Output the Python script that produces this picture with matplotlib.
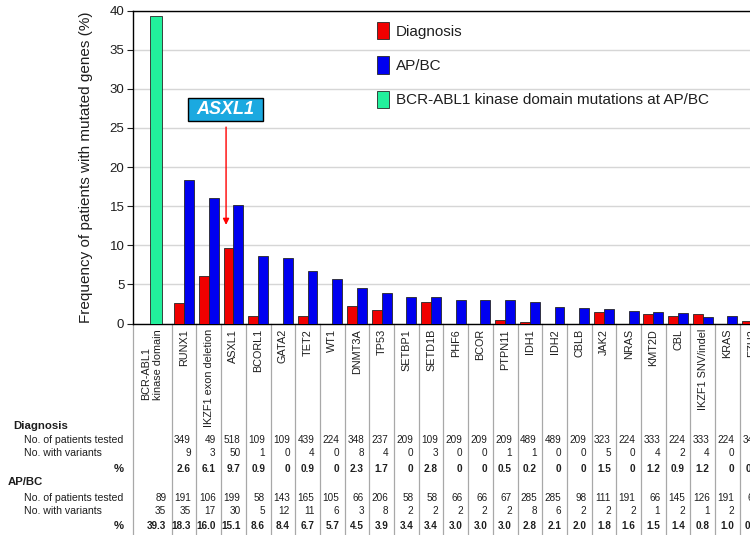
import numpy as np
import matplotlib
matplotlib.use('Agg')
from matplotlib import pyplot as plt
from matplotlib import transforms
from matplotlib.patches import Patch, Rectangle

plt.rcParams['font.family'] = ['Liberation Sans', 'DejaVu Sans']

# BCR-ABL1 kinase domain column (AP/BC only)
kd_label = 'BCR-ABL1\nkinase domain'
kd_tested = 89
kd_variants = 35
kd_pct = 39.3

genes = ['RUNX1', 'IKZF1 exon deletion', 'ASXL1', 'BCORL1', 'GATA2', 'TET2', 'WT1',
         'DNMT3A', 'TP53', 'SETBP1', 'SETD1B', 'PHF6', 'BCOR', 'PTPN11', 'IDH1',
         'IDH2', 'CBLB', 'JAK2', 'NRAS', 'KMT2D', 'CBL', 'IKZF1 SNV/indel', 'KRAS', 'EZH2']

diag_tested = [349, 49, 518, 109, 109, 439, 224, 348, 237, 209, 109, 209, 209, 209,
               489, 489, 209, 323, 224, 333, 224, 333, 224, 348]
diag_variants = [9, 3, 50, 1, 0, 4, 0, 8, 4, 0, 3, 0, 0, 1, 1, 0, 0, 5, 0, 4, 2, 4, 0, 1]
diag_pct = [2.6, 6.1, 9.7, 0.9, 0, 0.9, 0, 2.3, 1.7, 0, 2.8, 0, 0, 0.5, 0.2, 0, 0,
            1.5, 0, 1.2, 0.9, 1.2, 0, 0.3]

ap_tested = [191, 106, 199, 58, 143, 165, 105, 66, 206, 58, 58, 66, 66, 67, 285, 285,
             98, 111, 191, 66, 145, 126, 191, 66]
ap_variants = [35, 17, 30, 5, 12, 11, 6, 3, 8, 2, 2, 2, 2, 2, 8, 6, 2, 2, 2, 1, 2, 1, 2, 0]
ap_pct = [18.3, 16.0, 15.1, 8.6, 8.4, 6.7, 5.7, 4.5, 3.9, 3.4, 3.4, 3.0, 3.0, 3.0, 2.8,
          2.1, 2.0, 1.8, 1.6, 1.5, 1.4, 0.8, 1.0, 0.0]

RED = '#f00000'
BLUE = '#0000f0'
GREEN = '#22f09c'
EDGE = '#262626'
SEP = '#a8a8a8'
TXT = '#1e1e1e'

W, H = 750, 535
x_left, x_right = -1.58, 25.0
px_unit = 24.7
ax_left_px = 132.7
ax_top_px, ax_bot_px = 10.5, 323.5
NUM_FS = 7.2


def fy(px):
    return 1 - px / H


fig = plt.figure(figsize=(W / 100, H / 100), dpi=100)
ax = fig.add_axes([ax_left_px / W, fy(ax_bot_px),
                   (x_right - x_left) * px_unit / W, (ax_bot_px - ax_top_px) / H])

x = np.arange(len(genes)) + 0.5
ax.bar(x - 0.2, diag_pct, width=0.4, color=RED, edgecolor=EDGE, linewidth=0.6, zorder=3)
ax.bar(x + 0.2, ap_pct, width=0.4, color=BLUE, edgecolor=EDGE, linewidth=0.6, zorder=3)
ax.bar([-0.63], [kd_pct], width=0.47, color=GREEN, edgecolor=EDGE, linewidth=0.6, zorder=3)

ax.yaxis.grid(True, color='#d6d6d6', linewidth=1)
ax.set_axisbelow(True)
for s in ['top', 'left', 'bottom']:
    ax.spines[s].set_color('black')
    ax.spines[s].set_linewidth(1)
ax.spines['right'].set_visible(False)
ax.set_yticks(range(0, 41, 5))
ax.set_xticks([])
ax.tick_params(axis='y', labelsize=9.5, length=4, width=0.8, pad=2, colors=TXT)
ax.set_ylabel('Frequency of patients with mutated genes (%)', fontsize=11, color=TXT)
ax.yaxis.set_label_coords((92.7 - ax_left_px) / ((x_right - x_left) * px_unit), 0.5)

handles = [Patch(facecolor=RED, edgecolor=EDGE, linewidth=0.6, label='Diagnosis'),
           Patch(facecolor=BLUE, edgecolor=EDGE, linewidth=0.6, label='AP/BC'),
           Patch(facecolor=GREEN, edgecolor=EDGE, linewidth=0.6,
                 label='BCR-ABL1 kinase domain mutations at AP/BC')]
leg = ax.legend(handles=handles, loc='upper left', bbox_to_anchor=(377 / W, fy(22)),
                bbox_transform=fig.transFigure, frameon=False, fontsize=11,
                handlelength=0.76, handleheight=1.37, handletextpad=0.48,
                labelspacing=1.11, borderpad=0, borderaxespad=0)
for t in leg.get_texts():
    t.set_color(TXT)

# ASXL1 call-out box and arrow
ax.add_patch(Rectangle((0.672, 25.92), 3.04, 2.9, facecolor='#1ba9e0', edgecolor='black',
                       linewidth=1, zorder=5))
ax.text(2.19, 27.37, 'ASXL1', color='white', fontsize=13, fontweight='bold',
        fontstyle='italic', ha='center', va='center', zorder=6)
ax.annotate('', xy=(2.2, 12.6), xytext=(2.2, 25.1),
            arrowprops=dict(arrowstyle='-|>', color='red', lw=1, mutation_scale=9,
                            shrinkA=0, shrinkB=0))

# table below the axes: x in data units, y in figure fraction
trans = transforms.blended_transform_factory(ax.transData, fig.transFigure)
bounds = [x_left] + list(range(0, len(genes) + 1))
for b in bounds:
    ax.plot([b, b], [fy(ax_bot_px), 0], transform=trans, color=SEP, lw=0.9,
            clip_on=False, zorder=1)

ax.text(-0.79, fy(329), kd_label, transform=trans, rotation=90, ha='center', va='top',
        multialignment='left', fontsize=7.8, color=TXT, linespacing=1.15)
for xi, g in zip(x, genes):
    ax.text(xi, fy(329), g, transform=trans, rotation=90, ha='center', va='top',
            fontsize=7.8, color=TXT)

fig.text(13.3 / W, fy(425.7), 'Diagnosis', fontsize=8.2, fontweight='bold', va='center', color=TXT)
fig.text(24.3 / W, fy(440), 'No. of patients tested', fontsize=7.6, va='center', color=TXT)
fig.text(24.3 / W, fy(453.3), 'No. with variants', fontsize=7.6, va='center', color=TXT)
fig.text(123.3 / W, fy(469.5), '%', fontsize=8.2, fontweight='bold', ha='right', va='center', color=TXT)
fig.text(8 / W, fy(482), 'AP/BC', fontsize=8.2, fontweight='bold', va='center', color=TXT)
fig.text(24.3 / W, fy(498.3), 'No. of patients tested', fontsize=7.6, va='center', color=TXT)
fig.text(24.3 / W, fy(510.5), 'No. with variants', fontsize=7.6, va='center', color=TXT)
fig.text(123.3 / W, fy(526), '%', fontsize=8.2, fontweight='bold', ha='right', va='center', color=TXT)

pad = 0.22
kd_right = 0 - pad
ax.text(kd_right, fy(498.3), str(kd_tested), transform=trans, ha='right', va='center', fontsize=NUM_FS, color=TXT)
ax.text(kd_right, fy(510.5), str(kd_variants), transform=trans, ha='right', va='center', fontsize=NUM_FS, color=TXT)
ax.text(kd_right, fy(526), f'{kd_pct:.1f}', transform=trans, ha='right', va='center',
        fontsize=NUM_FS, fontweight='bold', color=TXT)

for i in range(len(genes)):
    xr = i + 1 - pad
    dp = '0' if diag_pct[i] == 0 else f'{diag_pct[i]:.1f}'
    ax.text(xr, fy(440), str(diag_tested[i]), transform=trans, ha='right', va='center', fontsize=NUM_FS, color=TXT)
    ax.text(xr, fy(453.3), str(diag_variants[i]), transform=trans, ha='right', va='center', fontsize=NUM_FS, color=TXT)
    ax.text(xr, fy(469.5), dp, transform=trans, ha='right', va='center', fontsize=NUM_FS,
            fontweight='bold', color=TXT)
    ax.text(xr, fy(498.3), str(ap_tested[i]), transform=trans, ha='right', va='center', fontsize=NUM_FS, color=TXT)
    ax.text(xr, fy(510.5), str(ap_variants[i]), transform=trans, ha='right', va='center', fontsize=NUM_FS, color=TXT)
    ax.text(xr, fy(526), f'{ap_pct[i]:.1f}', transform=trans, ha='right', va='center',
            fontsize=NUM_FS, fontweight='bold', color=TXT)

ax.set_xlim(x_left, x_right)
ax.set_ylim(0, 40)

fig.savefig('out.png', dpi=100)
